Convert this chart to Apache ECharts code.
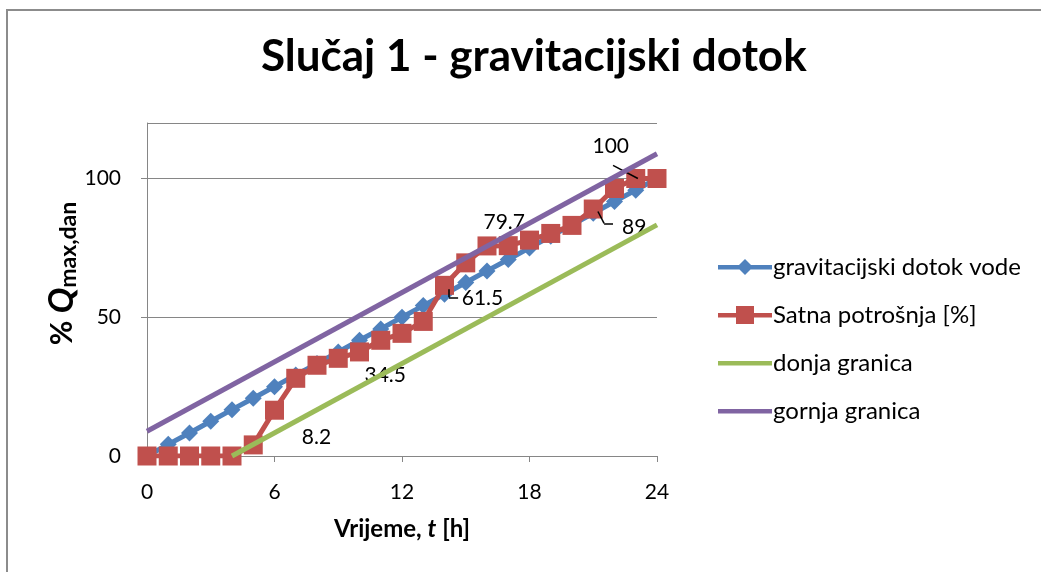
<!DOCTYPE html>
<html>
<head>
<meta charset="utf-8">
<script src="https://cdn.jsdelivr.net/npm/echarts@6/dist/echarts.min.js"></script>
<style>
  html, body { margin: 0; padding: 0; background: #fff; }
  #chart { width: 1041px; height: 572px; }
</style>
</head>
<body>
<div id="chart"></div>
<script>
// hours
const hours = [0, 1, 2, 3, 4, 5, 6, 7, 8, 9, 10, 11, 12, 13, 14, 15, 16, 17, 18, 19, 20, 21, 22, 23, 24];
// gravitacijski dotok vode
const dotok = [0, 4.2, 8.3, 12.5, 16.7, 20.8, 25, 29.2, 33.3, 37.5, 41.7, 45.8, 50, 54.2, 58.3, 62.5, 66.7, 70.8, 75, 79.2, 83.3, 87.5, 91.7, 95.8, 100];
// Satna potrošnja [%]
const potrosnja = [0, 0, 0, 0, 0, 4, 16.5, 28, 32.7, 35.2, 37.5, 41.7, 44.2, 48.5, 61.5, 69.6, 75.7, 75.8, 77.8, 80.2, 83.1, 89, 96.4, 100, 100];
// granice (start and end points)
const donjaX = [4, 24];
const donja = [0, 83.3];
const gornjaX = [0, 24];
const gornja = [8.9, 108.9];

const yTicks = [0, 50, 100];

// data labels on Satna potrošnja: index, text
const labelIdx = [6, 9, 14, 17, 21, 23];
const labelTxt = ['8.2', '34.5', '61.5', '79.7', '89', '100'];
const labelOffset = [[42, 27], [47, 17], [38, 13], [-4, -23], [41, 18], [-25, -32]];

// leader lines for some labels
const leaders = [
  [[14.21, 60.1], [14.21, 57.2]], [[14.21, 57.2], [14.64, 57.2]],
  [[21.22, 88.1], [21.51, 83.8]], [[21.51, 83.8], [21.93, 83.8]],
  [[21.93, 104.7], [23.1, 100]]
];

const FONT = 'Lato';
const grey = '#868686';

// legend icons (54 x 20 box, dots at corners keep the box size)
const box = 'M0,0 L0.01,0 L0,0.01 Z M54,20 L53.99,20 L54,19.99 Z ';
const iconLine = 'path://' + box + 'M0,8 L54,8 L54,12.5 L0,12.5 Z';
const iconDiamond = iconLine + ' M27,2 L35,10 L27,18 L19,10 Z';
const iconSquare = iconLine + ' M18,1 L36,1 L36,19 L18,19 Z';

const redData = hours.map((h, i) => {
  const k = labelIdx.indexOf(i);
  const item = { value: [h, potrosnja[i]] };
  if (k >= 0) {
    item.label = {
      show: true,
      formatter: labelTxt[k],
      position: 'inside',
      offset: labelOffset[k],
      color: '#000',
      fontSize: 21,
      fontFamily: FONT
    };
  }
  return item;
});

const chart = echarts.init(document.getElementById('chart'));
chart.setOption({
  backgroundColor: '#fff',
  animation: false,
  graphic: [{
    type: 'rect',
    shape: { x: 7, y: 10, width: 1100, height: 700 },
    style: { fill: 'none', stroke: '#8c8c8c', lineWidth: 2 },
    z: -10
  }],
  title: {
    text: 'Slučaj 1 - gravitacijski dotok',
    left: 256,
    top: 30,
    textStyle: { fontFamily: FONT, fontSize: 44, fontWeight: 'bold', color: '#000' }
  },
  legend: {
    orient: 'vertical',
    left: 713,
    top: 250,
    itemWidth: 54,
    itemHeight: 20,
    itemGap: 24,
    textStyle: { fontFamily: FONT, fontSize: 24, color: '#000', padding: [0, 0, 0, -4] },
    data: [
      { name: 'gravitacijski dotok vode', icon: iconDiamond },
      { name: 'Satna potrošnja [%]', icon: iconSquare },
      { name: 'donja granica', icon: iconLine },
      { name: 'gornja granica', icon: iconLine }
    ]
  },
  grid: { left: 147, right: 384, top: 123, bottom: 116 },
  xAxis: {
    type: 'value',
    min: 0,
    max: 24,
    interval: 6,
    name: '{b|Vrijeme, }{i|t}{b| [h]}',
    nameLocation: 'middle',
    nameGap: 61,
    nameTextStyle: {
      rich: {
        b: { fontFamily: FONT, fontSize: 24, fontWeight: 'bold', color: '#000' },
        i: { fontFamily: FONT, fontSize: 24, fontWeight: 'bold', fontStyle: 'italic', color: '#000' }
      }
    },
    axisLine: { show: true, onZero: false, lineStyle: { color: grey, width: 1 } },
    axisTick: { show: true, length: 6, lineStyle: { color: grey } },
    axisLabel: { margin: 26, fontFamily: FONT, fontSize: 21, color: '#000' },
    splitLine: { show: false }
  },
  yAxis: {
    type: 'value',
    min: 0,
    max: 120,
    interval: 50,
    name: '{b|% }{q|Q}{s|max,dan}',
    nameLocation: 'middle',
    nameGap: 65,
    nameRotate: 90,
    nameTextStyle: {
      padding: [0, 0, 0, 32],
      rich: {
        b: { fontFamily: FONT, fontSize: 30, fontWeight: 'bold', color: '#000' },
        q: { fontFamily: FONT, fontSize: 34, fontWeight: 'bold', fontStyle: 'italic', color: '#000' },
        s: { fontFamily: FONT, fontSize: 23, fontWeight: 'bold', color: '#000', verticalAlign: 'bottom', padding: [14, 0, 0, 0] }
      }
    },
    axisLine: { show: true, lineStyle: { color: grey, width: 1 } },
    axisTick: { show: true, length: 6, lineStyle: { color: grey } },
    axisLabel: {
      margin: 26, fontFamily: FONT, fontSize: 21, color: '#000', showMaxLabel: false,
      formatter: (v) => (yTicks.indexOf(v) >= 0 ? String(v) : '')
    },
    splitLine: { show: true, lineStyle: { color: grey, width: 1 } }
  },
  series: [
    {
      name: 'gravitacijski dotok vode',
      type: 'line',
      data: hours.map((h, i) => [h, dotok[i]]),
      symbol: 'diamond',
      symbolSize: 17,
      showAllSymbol: true,
      color: '#4F81BD',
      lineStyle: { width: 5, color: '#4F81BD' },
      itemStyle: { color: '#4F81BD' },
      z: 2
    },
    {
      name: 'Satna potrošnja [%]',
      type: 'line',
      data: redData,
      symbol: 'rect',
      symbolSize: 19,
      showAllSymbol: true,
      color: '#C0504D',
      lineStyle: { width: 5, color: '#C0504D' },
      itemStyle: { color: '#C0504D' },
      markLine: {
        silent: true,
        symbol: 'none',
        label: { show: false },
        lineStyle: { color: '#000', width: 1.5, type: 'solid' },
        data: leaders.map(([a, b]) => [{ coord: a }, { coord: b }])
      },
      z: 3
    },
    {
      name: 'donja granica',
      type: 'line',
      data: donjaX.map((x, i) => [x, donja[i]]),
      symbol: 'none',
      color: '#9BBB59',
      lineStyle: { width: 5, color: '#9BBB59' },
      z: 4
    },
    {
      name: 'gornja granica',
      type: 'line',
      data: gornjaX.map((x, i) => [x, gornja[i]]),
      symbol: 'none',
      color: '#8064A2',
      lineStyle: { width: 5, color: '#8064A2' },
      z: 5
    }
  ]
});
</script>
</body>
</html>
